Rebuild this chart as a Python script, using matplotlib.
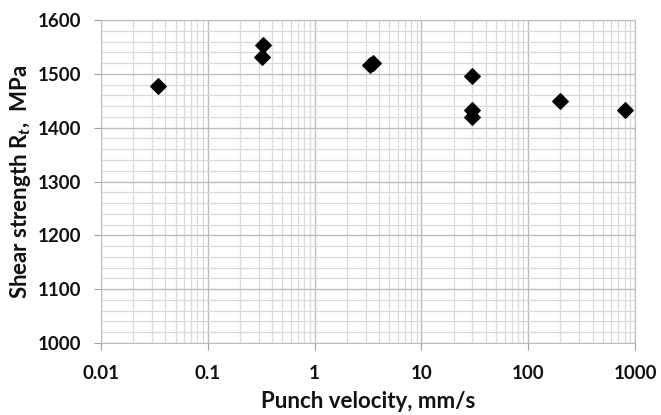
import matplotlib.pyplot as plt
from matplotlib.ticker import LogLocator, MultipleLocator, FixedLocator

# data
velocity = [0.034, 0.33, 0.32, 3.3, 3.5, 30, 30, 30, 200, 800]
strength = [1477, 1554, 1531, 1516, 1521, 1496, 1433, 1420, 1450, 1433]

x_ticks = [0.01, 0.1, 1, 10, 100, 1000]
x_labels = ["0.01", "0.1", "1", "10", "100", "1000"]
y_ticks = [1000, 1100, 1200, 1300, 1400, 1500, 1600]

plt.rcParams['font.family'] = ['Lato', 'DejaVu Sans']
plt.rcParams['mathtext.fontset'] = 'custom'
plt.rcParams['mathtext.rm'] = 'Lato'
plt.rcParams['mathtext.it'] = 'Lato:italic:bold'

fig = plt.figure(figsize=(6.61, 4.15), dpi=100)
ax = fig.add_axes([0.1528, 0.1735, 0.8079, 0.7783])

ax.scatter(velocity, strength, marker='D', s=62, color='black', zorder=3)

ax.set_xscale('log')
ax.set_xlim(0.01, 1000)
ax.set_ylim(1000, 1600)

ax.xaxis.set_major_locator(FixedLocator(x_ticks))
ax.set_xticklabels(x_labels)
ax.xaxis.set_minor_locator(LogLocator(base=10, subs=range(2, 10)))
ax.yaxis.set_major_locator(FixedLocator(y_ticks))
ax.yaxis.set_minor_locator(MultipleLocator(20))

#grid
ax.grid(which='major', color='#bdbdbd', linewidth=1.0)
ax.grid(which='minor', color='#dadada', linewidth=0.9)
ax.set_axisbelow(True)
for s in ax.spines.values():
    s.set_color('#bdbdbd')

ax.tick_params(which='major', length=5, color='#a0a0a0', labelsize=13.5)
ax.tick_params(which='minor', length=0)
ax.tick_params(axis='y', pad=9)
ax.tick_params(axis='x', pad=11)
for lab in ax.get_xticklabels() + ax.get_yticklabels():
    lab.set_fontweight('bold')
    lab.set_color('#111111')

ax.set_xlabel("Punch velocity, mm/s", fontsize=16, fontweight='bold',
              labelpad=6, color='#111111')
ax.set_ylabel("Shear strength R$_{\\mathit{t}}$,  MPa", fontsize=16,
              fontweight='bold', labelpad=4, color='#111111')

fig.savefig('out.png', dpi=100)
